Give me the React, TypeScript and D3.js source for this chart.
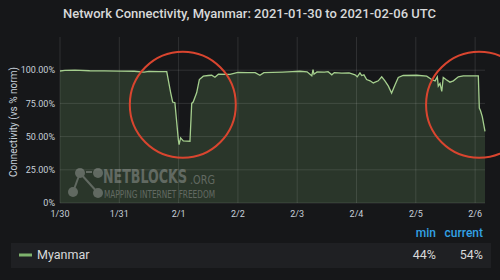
import React from "react";
import * as d3 from "d3";

// Hours since 2021-01-30 00:00 UTC and connectivity (% of normal)
const hours = [
  0, 2, 6, 12, 18, 24, 30, 34, 36, 40, 43.2, 44.8, 45.6, 46.5, 47.9, 48.2, 48.8, 49.9, 52.6,
  53.3, 53.9, 55.3, 56.4, 58.0, 60, 61.4, 62.7, 64.1, 68.8, 72, 76, 79, 80.9, 82.5, 86, 90,
  94, 97.1, 100, 101.9, 102.4, 102.8, 104, 107, 108.5, 110, 111, 114, 117, 119.4, 120.3,
  121.4, 122.1, 123, 124.1, 125.5, 126.8, 128.8, 130.2, 131.5, 132.9, 134.2, 135.6, 136.9,
  138.9, 144.4, 148.4, 150.4, 151.8, 152.7, 153.1, 153.8, 154.5, 155.1, 156.2, 157.8, 159.2,
  161.2, 163.2, 169.3, 169.7, 170.2, 170.9, 172,
];
const connectivity = [
  99.4, 99.8, 100.0, 99.6, 99.5, 99.3, 99.2, 98.6, 99.1, 99.0, 99.0, 83, 76, 75.5, 47.5, 44,
  49, 46.8, 46.5, 75, 76, 83, 93, 95.5, 96, 96.2, 94.7, 97, 96.8, 98.3, 98.2, 98.2, 96.2,
  98.2, 98.4, 98.6, 98.9, 99.2, 98.8, 95.8, 100.5, 97, 98.7, 98.6, 98.9, 96.5, 98.2, 97.8,
  97.9, 96.5, 95.0, 98, 96, 96.5, 93, 92, 90.4, 92, 95, 92, 88, 82.8, 89, 94.5, 96, 96.2,
  95.5, 93, 92, 95, 88, 90, 84, 94.5, 93, 91, 92, 95, 95.8, 95.8, 71.5, 69.5, 65, 54,
];

const yTicks = [0, 25, 50, 75, 100];
const dayTicks = ["2021-01-30", "2021-01-31", "2021-02-01", "2021-02-02", "2021-02-03", "2021-02-04", "2021-02-05", "2021-02-06"];
const seriesName = "Myanmar";
const titleText = "Network Connectivity, Myanmar: 2021-01-30 to 2021-02-06 UTC";
const yAxisTitle = "Connectivity (vs % norm)";

// Highlighted events: time (hours) and level (%) of circle centres
const highlightHours = [49.7, 169.6];
const highlightLevels = [74, 74];

const W = 500;
const H = 280;
const startMs = Date.UTC(2021, 0, 30);

export default function App() {
  const data = hours.map((h, i) => ({ t: new Date(startMs + h * 3600e3), v: connectivity[i] }));

  const x = d3
    .scaleUtc()
    .domain([new Date(startMs), data[data.length - 1].t])
    .range([60, 485]);
  const y = d3.scaleLinear().domain([0, 125]).range([203, 37]);

  const line = d3
    .line<{ t: Date; v: number }>()
    .x((d) => x(d.t))
    .y((d) => y(d.v));
  const area = d3
    .area<{ t: Date; v: number }>()
    .x((d) => x(d.t))
    .y0(y(0))
    .y1((d) => y(d.v));

  const minVal = d3.min(connectivity) as number;
  const curVal = connectivity[connectivity.length - 1];
  const fmtDay = d3.utcFormat("%-m/%-d");
  const font = "Roboto, 'Noto Sans', sans-serif";
  const tickColor = "#c7d0d9";
  const grid = "rgba(255,255,255,0.11)";
  const condensed = "'DejaVu Sans Condensed', 'Liberation Sans Narrow', sans-serif";

  return (
    <div style={{ position: "fixed", left: 0, top: 0, width: W, height: H, background: "#161719" }}>
      <svg width={W} height={H} style={{ display: "block" }} fontFamily={font}>
        <rect width={W} height={H} fill="#161719" />
        <text x={63} y={18} fill="#d8d9da" fontSize={13} fontWeight={500}>
          {titleText}
        </text>

        {/* filled area under the series */}
        <path d={area(data) || ""} fill="rgba(126,178,109,0.2)" />

        {/* grid */}
        {yTicks.map((t) => (
          <line key={"gy" + t} x1={60} x2={485} y1={y(t)} y2={y(t)} stroke={grid} />
        ))}
        {dayTicks.map((d) => {
          const xx = x(new Date(d + "T00:00:00Z"));
          return <line key={"gx" + d} x1={xx} x2={xx} y1={37} y2={203} stroke={grid} />;
        })}

        {/* axis labels */}
        {yTicks.map((t) => (
          <text key={"ty" + t} x={55} y={y(t)} dy="0.35em" textAnchor="end" fill={tickColor} fontSize={9}>
            {t === 0 ? "0%" : t.toFixed(2) + "%"}
          </text>
        ))}
        {dayTicks.map((d) => (
          <text key={"tx" + d} x={x(new Date(d + "T00:00:00Z"))} y={217} textAnchor="middle" fill={tickColor} fontSize={9}>
            {fmtDay(new Date(d + "T00:00:00Z"))}
          </text>
        ))}
        <text
          transform={`translate(17,${(y(0) + y(125)) / 2 + 2}) rotate(-90)`}
          textAnchor="middle"
          fill={tickColor}
          fontSize={10}
        >
          {yAxisTitle}
        </text>

        {/* watermark */}
        <g opacity={0.33} fill="#d0d0d0" stroke="#d0d0d0">
          <line x1={80} y1={173} x2={73} y2={192} strokeWidth={2} />
          <line x1={80} y1={173} x2={98} y2={193} strokeWidth={2} />
          <line x1={86} y1={172} x2={92} y2={172} strokeWidth={2} />
          <circle cx={80} cy={173} r={5} stroke="none" />
          <circle cx={98} cy={173} r={5} stroke="none" />
          <circle cx={73} cy={192} r={5} stroke="none" />
          <circle cx={98} cy={193} r={5} stroke="none" />
          <text
            transform="translate(103,183) scale(1,1.45)"
            stroke="none"
            fontFamily={condensed}
            fontWeight={700}
            fontSize={14}
            textLength={84}
            lengthAdjust="spacingAndGlyphs"
          >
            NETBLOCKS
          </text>
          <text
            transform="translate(190,184) scale(1,1.2)"
            stroke="none"
            fontFamily={condensed}
            fontSize={10}
            textLength={25}
            lengthAdjust="spacingAndGlyphs"
          >
            .ORG
          </text>
          <text
            transform="translate(104,198) scale(1,1.3)"
            stroke="none"
            fontFamily={condensed}
            fontSize={8}
            textLength={111}
            lengthAdjust="spacingAndGlyphs"
          >
            MAPPING INTERNET FREEDOM
          </text>
        </g>

        {/* series line */}
        <path d={line(data) || ""} fill="none" stroke="#a5cf8e" strokeWidth={1.3} />

        {/* event highlights */}
        {highlightHours.map((h, i) => (
          <circle
            key={"hl" + i}
            cx={x(new Date(startMs + h * 3600e3))}
            cy={y(highlightLevels[i])}
            r={53}
            fill="none"
            stroke="#d9452f"
            strokeWidth={2}
          />
        ))}

        {/* legend */}
        <text x={436} y={237} textAnchor="end" fill="#33a2e5" fontSize={12} fontWeight={500}>
          min
        </text>
        <text x={483} y={237} textAnchor="end" fill="#33a2e5" fontSize={12} fontWeight={500}>
          current
        </text>
        <rect x={11} y={243} width={480} height={25} fill="#1f2023" />
        <rect x={19} y={253.5} width={13} height={3} fill="#7eb26d" />
        <text x={37} y={259} fill="#d8d9da" fontSize={12.5}>
          {seriesName}
        </text>
        <text x={436} y={259} textAnchor="end" fill="#d8d9da" fontSize={12.5}>
          {Math.round(minVal)}%
        </text>
        <text x={483} y={259} textAnchor="end" fill="#d8d9da" fontSize={12.5}>
          {Math.round(curVal)}%
        </text>
      </svg>
    </div>
  );
}
